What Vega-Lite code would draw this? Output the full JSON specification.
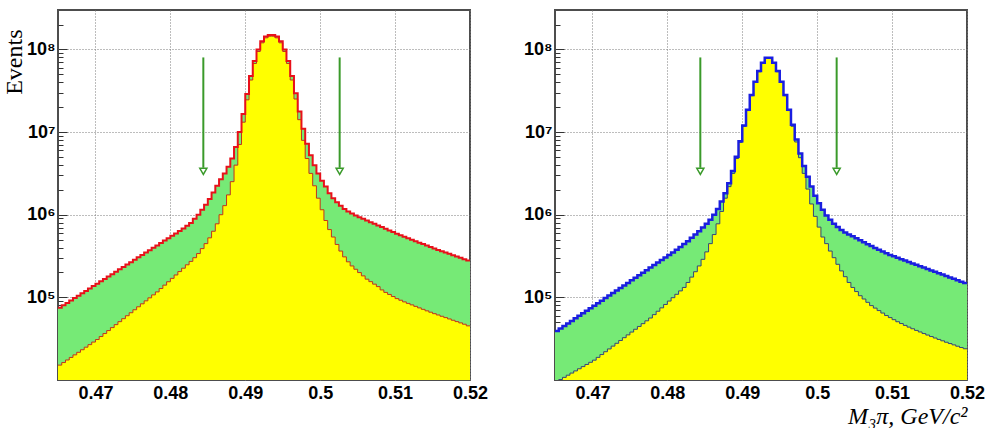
{
  "$schema": "https://vega.github.io/schema/vega-lite/v6.json",
  "background": "white",
  "padding": {"left": 1, "top": 9, "right": 5, "bottom": 0},
  "bounds": "flush",
  "spacing": 85,
  "config": {
    "view": {"stroke": "#4d4d4d", "strokeWidth": 2},
    "axis": {"labelFont": "Liberation Sans, DejaVu Sans", "labelFontSize": 18, "labelFontWeight": "bold", "labelColor": "#000", "domain": false, "gridColor": "#7a7a7a", "gridDash": [1, 2], "gridWidth": 1, "titleColor": "#000", "titleFontWeight": "normal", "labelOverlap": false, "labelFlush": false}
  },
  "datasets": {
    "cuts": [
      {"m": 0.4844, "top": 8.0e7, "stem_end": 3.7e6, "head": 3.35e6},
      {"m": 0.5026, "top": 8.0e7, "stem_end": 3.7e6, "head": 3.35e6}
    ],
    "left": [
      {"m":0.465,"total":7.50e4,"signal":1.514e4},
      {"m":0.4655,"total":8.02e4,"signal":1.626e4},
      {"m":0.466,"total":8.57e4,"signal":1.746e4},
      {"m":0.4665,"total":9.16e4,"signal":1.875e4},
      {"m":0.467,"total":9.79e4,"signal":2.014e4},
      {"m":0.4675,"total":1.047e5,"signal":2.163e4},
      {"m":0.468,"total":1.119e5,"signal":2.323e4},
      {"m":0.4685,"total":1.197e5,"signal":2.495e4},
      {"m":0.469,"total":1.279e5,"signal":2.679e4},
      {"m":0.4695,"total":1.368e5,"signal":2.877e4},
      {"m":0.47,"total":1.462e5,"signal":3.090e4},
      {"m":0.4705,"total":1.563e5,"signal":3.357e4},
      {"m":0.471,"total":1.671e5,"signal":3.648e4},
      {"m":0.4715,"total":1.786e5,"signal":3.963e4},
      {"m":0.472,"total":1.910e5,"signal":4.305e4},
      {"m":0.4725,"total":2.042e5,"signal":4.677e4},
      {"m":0.473,"total":2.183e5,"signal":5.082e4},
      {"m":0.4735,"total":2.333e5,"signal":5.521e4},
      {"m":0.474,"total":2.495e5,"signal":5.998e4},
      {"m":0.4745,"total":2.667e5,"signal":6.516e4},
      {"m":0.475,"total":2.851e5,"signal":7.079e4},
      {"m":0.4755,"total":3.048e5,"signal":7.691e4},
      {"m":0.476,"total":3.258e5,"signal":8.356e4},
      {"m":0.4765,"total":3.483e5,"signal":9.078e4},
      {"m":0.477,"total":3.724e5,"signal":9.863e4},
      {"m":0.4775,"total":3.981e5,"signal":1.072e5},
      {"m":0.478,"total":4.256e5,"signal":1.164e5},
      {"m":0.4785,"total":4.550e5,"signal":1.279e5},
      {"m":0.479,"total":4.864e5,"signal":1.406e5},
      {"m":0.4795,"total":5.200e5,"signal":1.545e5},
      {"m":0.48,"total":5.559e5,"signal":1.698e5},
      {"m":0.4805,"total":5.943e5,"signal":1.866e5},
      {"m":0.481,"total":6.353e5,"signal":2.051e5},
      {"m":0.4815,"total":6.792e5,"signal":2.254e5},
      {"m":0.482,"total":7.33e5,"signal":2.477e5},
      {"m":0.4825,"total":7.94e5,"signal":2.723e5},
      {"m":0.483,"total":8.91e5,"signal":3.020e5},
      {"m":0.4835,"total":1.00e6,"signal":3.388e5},
      {"m":0.484,"total":1.148e6,"signal":3.890e5},
      {"m":0.4845,"total":1.318e6,"signal":4.467e5},
      {"m":0.485,"total":1.549e6,"signal":5.248e5},
      {"m":0.4855,"total":1.862e6,"signal":6.310e5},
      {"m":0.486,"total":2.239e6,"signal":7.762e5},
      {"m":0.4865,"total":2.692e6,"signal":1.00e6},
      {"m":0.487,"total":3.162e6,"signal":1.288e6},
      {"m":0.4875,"total":3.802e6,"signal":1.738e6},
      {"m":0.488,"total":4.786e6,"signal":2.512e6},
      {"m":0.4885,"total":6.607e6,"signal":3.981e6},
      {"m":0.489,"total":1.00e7,"signal":7.079e6},
      {"m":0.4895,"total":1.660e7,"signal":1.318e7},
      {"m":0.49,"total":2.884e7,"signal":2.455e7},
      {"m":0.4905,"total":4.786e7,"signal":4.266e7},
      {"m":0.491,"total":7.244e7,"signal":6.761e7},
      {"m":0.4915,"total":1.00e8,"signal":9.44e7},
      {"m":0.492,"total":1.259e8,"signal":1.202e8},
      {"m":0.4925,"total":1.429e8,"signal":1.380e8},
      {"m":0.493,"total":1.496e8,"signal":1.445e8},
      {"m":0.4935,"total":1.496e8,"signal":1.445e8},
      {"m":0.494,"total":1.429e8,"signal":1.380e8},
      {"m":0.4945,"total":1.259e8,"signal":1.202e8},
      {"m":0.495,"total":1.00e8,"signal":9.44e7},
      {"m":0.4955,"total":7.244e7,"signal":6.761e7},
      {"m":0.496,"total":4.786e7,"signal":4.266e7},
      {"m":0.4965,"total":2.951e7,"signal":2.512e7},
      {"m":0.497,"total":1.778e7,"signal":1.413e7},
      {"m":0.4975,"total":1.096e7,"signal":7.943e6},
      {"m":0.498,"total":7.244e6,"signal":4.786e6},
      {"m":0.4985,"total":5.248e6,"signal":3.162e6},
      {"m":0.499,"total":3.981e6,"signal":2.239e6},
      {"m":0.4995,"total":3.162e6,"signal":1.585e6},
      {"m":0.5,"total":2.570e6,"signal":1.148e6},
      {"m":0.5005,"total":2.188e6,"signal":8.511e5},
      {"m":0.501,"total":1.820e6,"signal":6.607e5},
      {"m":0.5015,"total":1.585e6,"signal":5.370e5},
      {"m":0.502,"total":1.413e6,"signal":4.365e5},
      {"m":0.5025,"total":1.288e6,"signal":3.631e5},
      {"m":0.503,"total":1.175e6,"signal":3.090e5},
      {"m":0.5035,"total":1.096e6,"signal":2.692e5},
      {"m":0.504,"total":1.035e6,"signal":2.399e5},
      {"m":0.5045,"total":9.77e5,"signal":2.188e5},
      {"m":0.505,"total":9.33e5,"signal":1.995e5},
      {"m":0.5055,"total":8.91e5,"signal":1.820e5},
      {"m":0.506,"total":8.51e5,"signal":1.660e5},
      {"m":0.5065,"total":8.13e5,"signal":1.549e5},
      {"m":0.507,"total":7.76e5,"signal":1.445e5},
      {"m":0.5075,"total":7.41e5,"signal":1.349e5},
      {"m":0.508,"total":7.08e5,"signal":1.230e5},
      {"m":0.5085,"total":6.76e5,"signal":1.148e5},
      {"m":0.509,"total":6.46e5,"signal":1.084e5},
      {"m":0.5095,"total":6.17e5,"signal":1.023e5},
      {"m":0.51,"total":5.89e5,"signal":9.66e4},
      {"m":0.5105,"total":5.65e5,"signal":9.23e4},
      {"m":0.511,"total":5.42e5,"signal":8.81e4},
      {"m":0.5115,"total":5.20e5,"signal":8.45e4},
      {"m":0.512,"total":4.99e5,"signal":8.11e4},
      {"m":0.5125,"total":4.79e5,"signal":7.78e4},
      {"m":0.513,"total":4.59e5,"signal":7.46e4},
      {"m":0.5135,"total":4.41e5,"signal":7.16e4},
      {"m":0.514,"total":4.23e5,"signal":6.87e4},
      {"m":0.5145,"total":4.06e5,"signal":6.61e4},
      {"m":0.515,"total":3.89e5,"signal":6.35e4},
      {"m":0.5155,"total":3.75e5,"signal":6.12e4},
      {"m":0.516,"total":3.61e5,"signal":5.90e4},
      {"m":0.5165,"total":3.48e5,"signal":5.69e4},
      {"m":0.517,"total":3.36e5,"signal":5.48e4},
      {"m":0.5175,"total":3.24e5,"signal":5.28e4},
      {"m":0.518,"total":3.12e5,"signal":5.09e4},
      {"m":0.5185,"total":3.01e5,"signal":4.91e4},
      {"m":0.519,"total":2.90e5,"signal":4.73e4},
      {"m":0.5195,"total":2.79e5,"signal":4.52e4},
      {"m":0.52,"total":2.79e5,"signal":4.52e4}
    ],
    "right": [
      {"m":0.465,"total":3.908e4,"signal":9.55e3},
      {"m":0.4655,"total":4.198e4,"signal":1.014e4},
      {"m":0.466,"total":4.498e4,"signal":1.076e4},
      {"m":0.4665,"total":4.831e4,"signal":1.143e4},
      {"m":0.467,"total":5.188e4,"signal":1.213e4},
      {"m":0.4675,"total":5.572e4,"signal":1.288e4},
      {"m":0.468,"total":5.970e4,"signal":1.368e4},
      {"m":0.4685,"total":6.412e4,"signal":1.452e4},
      {"m":0.469,"total":6.887e4,"signal":1.542e4},
      {"m":0.4695,"total":7.379e4,"signal":1.637e4},
      {"m":0.47,"total":7.925e4,"signal":1.738e4},
      {"m":0.4705,"total":8.511e4,"signal":1.879e4},
      {"m":0.471,"total":9.120e4,"signal":2.032e4},
      {"m":0.4715,"total":9.795e4,"signal":2.198e4},
      {"m":0.472,"total":1.052e5,"signal":2.377e4},
      {"m":0.4725,"total":1.130e5,"signal":2.570e4},
      {"m":0.473,"total":1.211e5,"signal":2.780e4},
      {"m":0.4735,"total":1.300e5,"signal":3.006e4},
      {"m":0.474,"total":1.396e5,"signal":3.251e4},
      {"m":0.4745,"total":1.496e5,"signal":3.516e4},
      {"m":0.475,"total":1.607e5,"signal":3.802e4},
      {"m":0.4755,"total":1.726e5,"signal":4.111e4},
      {"m":0.476,"total":1.849e5,"signal":4.446e4},
      {"m":0.4765,"total":1.986e5,"signal":4.808e4},
      {"m":0.477,"total":2.133e5,"signal":5.200e4},
      {"m":0.4775,"total":2.291e5,"signal":5.623e4},
      {"m":0.478,"total":2.455e5,"signal":6.180e4},
      {"m":0.4785,"total":2.636e5,"signal":6.792e4},
      {"m":0.479,"total":2.831e5,"signal":7.464e4},
      {"m":0.4795,"total":3.034e5,"signal":8.204e4},
      {"m":0.48,"total":3.258e5,"signal":9.016e4},
      {"m":0.4805,"total":3.499e5,"signal":9.908e4},
      {"m":0.481,"total":3.767e5,"signal":1.089e5},
      {"m":0.4815,"total":4.074e5,"signal":1.197e5},
      {"m":0.482,"total":4.416e5,"signal":1.318e5},
      {"m":0.4825,"total":4.786e5,"signal":1.514e5},
      {"m":0.483,"total":5.248e5,"signal":1.758e5},
      {"m":0.4835,"total":5.754e5,"signal":2.042e5},
      {"m":0.484,"total":6.310e5,"signal":2.399e5},
      {"m":0.4845,"total":6.998e5,"signal":2.884e5},
      {"m":0.485,"total":7.762e5,"signal":3.548e5},
      {"m":0.4855,"total":8.710e5,"signal":4.467e5},
      {"m":0.486,"total":1.00e6,"signal":5.754e5},
      {"m":0.4865,"total":1.175e6,"signal":7.762e5},
      {"m":0.487,"total":1.445e6,"signal":1.096e6},
      {"m":0.4875,"total":1.820e6,"signal":1.585e6},
      {"m":0.488,"total":2.399e6,"signal":2.188e6},
      {"m":0.4885,"total":3.388e6,"signal":3.162e6},
      {"m":0.489,"total":5.012e6,"signal":4.786e6},
      {"m":0.4895,"total":7.762e6,"signal":7.499e6},
      {"m":0.49,"total":1.202e7,"signal":1.175e7},
      {"m":0.4905,"total":1.862e7,"signal":1.820e7},
      {"m":0.491,"total":2.818e7,"signal":2.754e7},
      {"m":0.4915,"total":4.074e7,"signal":3.981e7},
      {"m":0.492,"total":5.495e7,"signal":5.370e7},
      {"m":0.4925,"total":6.918e7,"signal":6.761e7},
      {"m":0.493,"total":7.943e7,"signal":7.762e7},
      {"m":0.4935,"total":7.943e7,"signal":7.762e7},
      {"m":0.494,"total":6.918e7,"signal":6.761e7},
      {"m":0.4945,"total":5.495e7,"signal":5.370e7},
      {"m":0.495,"total":4.074e7,"signal":3.981e7},
      {"m":0.4955,"total":2.818e7,"signal":2.754e7},
      {"m":0.496,"total":1.862e7,"signal":1.820e7},
      {"m":0.4965,"total":1.230e7,"signal":1.175e7},
      {"m":0.497,"total":8.128e6,"signal":7.586e6},
      {"m":0.4975,"total":5.495e6,"signal":4.898e6},
      {"m":0.498,"total":3.890e6,"signal":3.162e6},
      {"m":0.4985,"total":2.884e6,"signal":2.042e6},
      {"m":0.499,"total":2.188e6,"signal":1.349e6},
      {"m":0.4995,"total":1.698e6,"signal":9.550e5},
      {"m":0.5,"total":1.380e6,"signal":7.079e5},
      {"m":0.5005,"total":1.148e6,"signal":5.370e5},
      {"m":0.501,"total":9.772e5,"signal":4.467e5},
      {"m":0.5015,"total":8.710e5,"signal":3.631e5},
      {"m":0.502,"total":7.762e5,"signal":3.020e5},
      {"m":0.5025,"total":7.079e5,"signal":2.512e5},
      {"m":0.503,"total":6.531e5,"signal":2.089e5},
      {"m":0.5035,"total":6.095e5,"signal":1.778e5},
      {"m":0.504,"total":5.754e5,"signal":1.514e5},
      {"m":0.5045,"total":5.495e5,"signal":1.318e5},
      {"m":0.505,"total":5.188e5,"signal":1.175e5},
      {"m":0.5055,"total":4.898e5,"signal":1.047e5},
      {"m":0.506,"total":4.634e5,"signal":9.550e4},
      {"m":0.5065,"total":4.395e5,"signal":8.710e4},
      {"m":0.507,"total":4.169e5,"signal":7.943e4},
      {"m":0.5075,"total":3.963e5,"signal":7.413e4},
      {"m":0.508,"total":3.767e5,"signal":6.918e4},
      {"m":0.5085,"total":3.589e5,"signal":6.457e4},
      {"m":0.509,"total":3.420e5,"signal":6.026e4},
      {"m":0.5095,"total":3.266e5,"signal":5.689e4},
      {"m":0.51,"total":3.133e5,"signal":5.370e4},
      {"m":0.5105,"total":3.013e5,"signal":5.070e4},
      {"m":0.511,"total":2.897e5,"signal":4.819e4},
      {"m":0.5115,"total":2.786e5,"signal":4.581e4},
      {"m":0.512,"total":2.679e5,"signal":4.365e4},
      {"m":0.5125,"total":2.576e5,"signal":4.169e4},
      {"m":0.513,"total":2.477e5,"signal":3.981e4},
      {"m":0.5135,"total":2.382e5,"signal":3.811e4},
      {"m":0.514,"total":2.291e5,"signal":3.648e4},
      {"m":0.5145,"total":2.203e5,"signal":3.499e4},
      {"m":0.515,"total":2.118e5,"signal":3.357e4},
      {"m":0.5155,"total":2.037e5,"signal":3.221e4},
      {"m":0.516,"total":1.959e5,"signal":3.097e4},
      {"m":0.5165,"total":1.884e5,"signal":2.979e4},
      {"m":0.517,"total":1.811e5,"signal":2.864e4},
      {"m":0.5175,"total":1.742e5,"signal":2.761e4},
      {"m":0.518,"total":1.675e5,"signal":2.661e4},
      {"m":0.5185,"total":1.611e5,"signal":2.564e4},
      {"m":0.519,"total":1.549e5,"signal":2.472e4},
      {"m":0.5195,"total":1.489e5,"signal":2.388e4},
      {"m":0.52,"total":1.489e5,"signal":2.388e4}
    ]
  },
  "hconcat": [
    {
      "width": 412,
      "height": 370,
      "layer": [
        {
          "data": {"name": "left"},
          "mark": {"type": "area", "interpolate": "step-after", "color": "#76ea76", "clip": true},
          "encoding": {
            "x": {"field": "m", "type": "quantitative", "scale": {"domain": [0.465, 0.52], "nice": false, "zero": false},
              "axis": {"title": null, "values": [0.47, 0.48, 0.49, 0.5, 0.51, 0.52], "format": ".2~f", "ticks": false, "labelPadding": 4, "grid": true}},
            "y": {"field": "total", "type": "quantitative", "scale": {"type": "log", "domain": [10000, 300000000], "nice": false},
              "axis": {
                "title": "Events", "titleFont": "Liberation Serif", "titleFontSize": 24, "titleAnchor": "end", "titleY": 19, "titlePadding": 0,
                "values": [20000, 30000, 40000, 50000, 60000, 70000, 80000, 90000, 100000, 200000, 300000, 400000, 500000, 600000, 700000, 800000, 900000, 1000000, 2000000, 3000000, 4000000, 5000000, 6000000, 7000000, 8000000, 9000000, 10000000, 20000000, 30000000, 40000000, 50000000, 60000000, 70000000, 80000000, 90000000, 100000000, 200000000],
                "labelExpr": "datum.value == 100000 ? '10⁵' : datum.value == 1000000 ? '10⁶' : datum.value == 10000000 ? '10⁷' : datum.value == 100000000 ? '10⁸' : ''",
                "labelPadding": 12,
                "tickColor": "#333",
                "tickSize": {"condition": {"test": "datum.value == 100000 || datum.value == 1000000 || datum.value == 10000000 || datum.value == 100000000", "value": -9}, "value": -5},
                "grid": true,
                "gridOpacity": {"condition": {"test": "datum.value == 100000 || datum.value == 1000000 || datum.value == 10000000 || datum.value == 100000000", "value": 1}, "value": 0}
              }},
            "y2": {"datum": 10000}
          }
        },
        {
          "data": {"name": "left"},
          "mark": {"type": "area", "interpolate": "step-after", "color": "#ffff00", "clip": true},
          "encoding": {"x": {"field": "m", "type": "quantitative"}, "y": {"field": "signal", "type": "quantitative"}, "y2": {"datum": 10000}}
        },
        {
          "data": {"name": "left"},
          "mark": {"type": "line", "interpolate": "step-after", "color": "#c0341e", "strokeWidth": 1, "clip": true},
          "encoding": {"x": {"field": "m", "type": "quantitative"}, "y": {"field": "signal", "type": "quantitative"}}
        },
        {
          "data": {"name": "left"},
          "mark": {"type": "line", "interpolate": "step-after", "color": "#e8101a", "strokeWidth": 2, "clip": true},
          "encoding": {"x": {"field": "m", "type": "quantitative"}, "y": {"field": "total", "type": "quantitative"}}
        },
        {
          "data": {"name": "cuts"},
          "mark": {"type": "rule", "color": "#3a9a2a", "strokeWidth": 2},
          "encoding": {"x": {"field": "m", "type": "quantitative"}, "y": {"field": "top", "type": "quantitative"}, "y2": {"field": "stem_end"}}
        },
        {
          "data": {"name": "cuts"},
          "mark": {"type": "point", "shape": "triangle-down", "filled": false, "color": "#3a9a2a", "size": 50, "strokeWidth": 1.5, "opacity": 1},
          "encoding": {"x": {"field": "m", "type": "quantitative"}, "y": {"field": "head", "type": "quantitative"}}
        }
      ]
    },
    {
      "width": 412,
      "height": 370,
      "layer": [
        {
          "data": {"name": "right"},
          "mark": {"type": "area", "interpolate": "step-after", "color": "#76ea76", "clip": true},
          "encoding": {
            "x": {"field": "m", "type": "quantitative", "scale": {"domain": [0.465, 0.52], "nice": false, "zero": false},
              "axis": {"title": "M₃π, GeV/c²", "titleFont": "Liberation Serif, DejaVu Serif", "titleFontSize": 24, "titleFontStyle": "italic", "titleAnchor": "end", "titlePadding": 2,
                "values": [0.47, 0.48, 0.49, 0.5, 0.51, 0.52], "format": ".2~f", "ticks": false, "labelPadding": 4, "grid": true}},
            "y": {"field": "total", "type": "quantitative", "scale": {"type": "log", "domain": [10000, 300000000], "nice": false},
              "axis": {
                "title": null,
                "values": [20000, 30000, 40000, 50000, 60000, 70000, 80000, 90000, 100000, 200000, 300000, 400000, 500000, 600000, 700000, 800000, 900000, 1000000, 2000000, 3000000, 4000000, 5000000, 6000000, 7000000, 8000000, 9000000, 10000000, 20000000, 30000000, 40000000, 50000000, 60000000, 70000000, 80000000, 90000000, 100000000, 200000000],
                "labelExpr": "datum.value == 100000 ? '10⁵' : datum.value == 1000000 ? '10⁶' : datum.value == 10000000 ? '10⁷' : datum.value == 100000000 ? '10⁸' : ''",
                "labelPadding": 12,
                "tickColor": "#333",
                "tickSize": {"condition": {"test": "datum.value == 100000 || datum.value == 1000000 || datum.value == 10000000 || datum.value == 100000000", "value": -9}, "value": -5},
                "grid": true,
                "gridOpacity": {"condition": {"test": "datum.value == 100000 || datum.value == 1000000 || datum.value == 10000000 || datum.value == 100000000", "value": 1}, "value": 0}
              }},
            "y2": {"datum": 10000}
          }
        },
        {
          "data": {"name": "right"},
          "mark": {"type": "area", "interpolate": "step-after", "color": "#ffff00", "clip": true},
          "encoding": {"x": {"field": "m", "type": "quantitative"}, "y": {"field": "signal", "type": "quantitative"}, "y2": {"datum": 10000}}
        },
        {
          "data": {"name": "right"},
          "mark": {"type": "line", "interpolate": "step-after", "color": "#36457a", "strokeWidth": 1, "clip": true},
          "encoding": {"x": {"field": "m", "type": "quantitative"}, "y": {"field": "signal", "type": "quantitative"}}
        },
        {
          "data": {"name": "right"},
          "mark": {"type": "line", "interpolate": "step-after", "color": "#1a1ee0", "strokeWidth": 2.5, "clip": true},
          "encoding": {"x": {"field": "m", "type": "quantitative"}, "y": {"field": "total", "type": "quantitative"}}
        },
        {
          "data": {"name": "cuts"},
          "mark": {"type": "rule", "color": "#3a9a2a", "strokeWidth": 2},
          "encoding": {"x": {"field": "m", "type": "quantitative"}, "y": {"field": "top", "type": "quantitative"}, "y2": {"field": "stem_end"}}
        },
        {
          "data": {"name": "cuts"},
          "mark": {"type": "point", "shape": "triangle-down", "filled": false, "color": "#3a9a2a", "size": 50, "strokeWidth": 1.5, "opacity": 1},
          "encoding": {"x": {"field": "m", "type": "quantitative"}, "y": {"field": "head", "type": "quantitative"}}
        }
      ]
    }
  ]
}
